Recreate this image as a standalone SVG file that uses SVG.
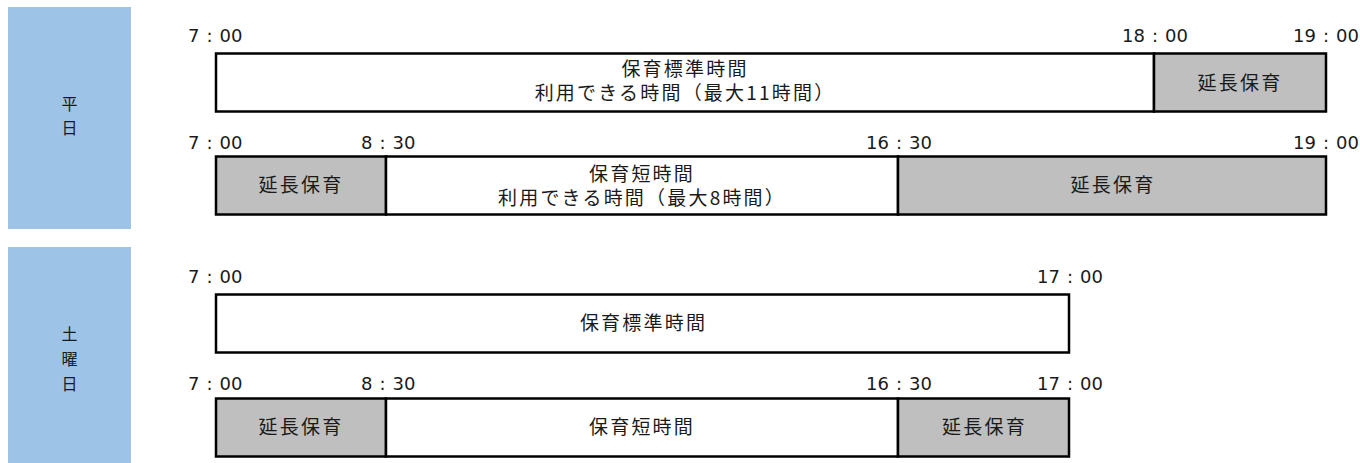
<svg xmlns="http://www.w3.org/2000/svg" width="1360" height="463" viewBox="0 0 1360 463">
<style>
.side{fill:#9DC3E6}
.bar{fill:#FFFFFF;stroke:#000;stroke-width:2.5}
.ext{fill:#BFBFBF;stroke:#000;stroke-width:2.5}
.tm{font-family:"DejaVu Sans","Liberation Sans",sans-serif;font-size:18px;fill:#1a1a1a}
.jp{font-family:"Noto Sans CJK JP","Noto Sans",sans-serif;font-size:19px;fill:#1a1a1a;letter-spacing:2.2px;text-anchor:middle}
.sd{font-family:"Noto Sans CJK JP","Noto Sans",sans-serif;font-size:16px;fill:#1a1a1a;text-anchor:middle}
</style>
<rect width="1360" height="463" fill="#FFFFFF"/>

<g id="weekday-label">
<rect class="side" x="8" y="7" width="123" height="222"/>
<text class="sd" x="69.5" y="110">平</text>
<text class="sd" x="69.5" y="134">日</text>
</g>

<g id="saturday-label">
<rect class="side" x="8" y="247" width="123" height="216"/>
<text class="sd" x="69.5" y="340">土</text>
<text class="sd" x="69.5" y="365">曜</text>
<text class="sd" x="69.5" y="390">日</text>
</g>

<g id="weekday-standard">
<rect class="bar" x="216" y="53.5" width="938" height="58"/>
<text class="jp"><tspan x="685" y="76">保育標準時間</tspan><tspan x="685" dy="24">利用できる時間（最大11時間）</tspan></text>
</g>
<g id="weekday-standard-ext">
<rect class="ext" x="1154" y="53.5" width="172" height="58"/>
<text class="jp" x="1240" y="90">延長保育</text>
</g>
<g id="weekday-standard-times">
<text class="tm" x="188" y="42">7<tspan dx="7">:</tspan><tspan dx="7">00</tspan></text>
<text class="tm" x="1122" y="42">18<tspan dx="7">:</tspan><tspan dx="7">00</tspan></text>
<text class="tm" x="1293" y="42">19<tspan dx="7">:</tspan><tspan dx="7">00</tspan></text>
</g>

<g id="weekday-short-ext1">
<rect class="ext" x="216" y="156.5" width="170" height="58"/>
<text class="jp" x="301" y="192">延長保育</text>
</g>
<g id="weekday-short">
<rect class="bar" x="386" y="156.5" width="512" height="58"/>
<text class="jp"><tspan x="642" y="181">保育短時間</tspan><tspan x="642" dy="24">利用できる時間（最大8時間）</tspan></text>
</g>
<g id="weekday-short-ext2">
<rect class="ext" x="898" y="156.5" width="428" height="58"/>
<text class="jp" x="1113" y="192">延長保育</text>
</g>
<g id="weekday-short-times">
<text class="tm" x="188" y="149">7<tspan dx="7">:</tspan><tspan dx="7">00</tspan></text>
<text class="tm" x="361" y="149">8<tspan dx="7">:</tspan><tspan dx="7">30</tspan></text>
<text class="tm" x="866" y="149">16<tspan dx="7">:</tspan><tspan dx="7">30</tspan></text>
<text class="tm" x="1293" y="149">19<tspan dx="7">:</tspan><tspan dx="7">00</tspan></text>
</g>

<g id="saturday-standard">
<rect class="bar" x="216" y="294.5" width="853" height="58"/>
<text class="jp" x="643.5" y="330">保育標準時間</text>
</g>
<g id="saturday-standard-times">
<text class="tm" x="188" y="283">7<tspan dx="7">:</tspan><tspan dx="7">00</tspan></text>
<text class="tm" x="1037" y="283">17<tspan dx="7">:</tspan><tspan dx="7">00</tspan></text>
</g>

<g id="saturday-short-ext1">
<rect class="ext" x="216" y="398.5" width="170" height="58"/>
<text class="jp" x="301" y="434">延長保育</text>
</g>
<g id="saturday-short">
<rect class="bar" x="386" y="398.5" width="512" height="58"/>
<text class="jp" x="642" y="434">保育短時間</text>
</g>
<g id="saturday-short-ext2">
<rect class="ext" x="898" y="398.5" width="171" height="58"/>
<text class="jp" x="984.5" y="434">延長保育</text>
</g>
<g id="saturday-short-times">
<text class="tm" x="188" y="390">7<tspan dx="7">:</tspan><tspan dx="7">00</tspan></text>
<text class="tm" x="361" y="390">8<tspan dx="7">:</tspan><tspan dx="7">30</tspan></text>
<text class="tm" x="866" y="390">16<tspan dx="7">:</tspan><tspan dx="7">30</tspan></text>
<text class="tm" x="1037" y="390">17<tspan dx="7">:</tspan><tspan dx="7">00</tspan></text>
</g>
</svg>
